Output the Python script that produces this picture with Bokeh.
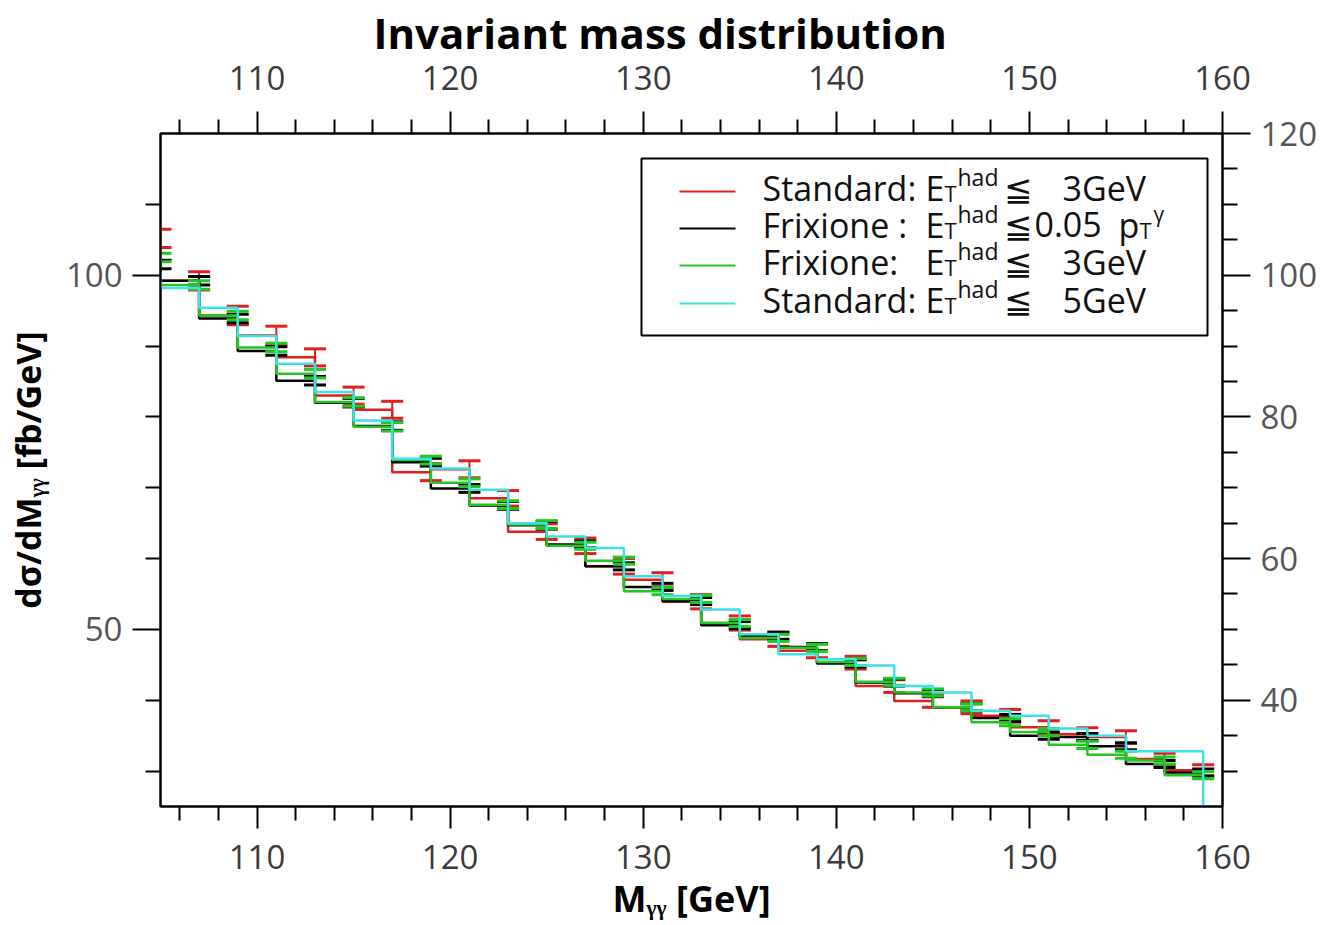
from bokeh.plotting import figure
from bokeh.models import LinearAxis, FixedTicker, Range1d, Label
from bokeh.embed import file_html
from bokeh.resources import INLINE

# ---------------- data ----------------
mass = [105, 107, 109, 111, 113, 115, 117, 119, 121, 123, 125, 127, 129, 131,
        133, 135, 137, 139, 141, 143, 145, 147, 149, 151, 153, 155, 157, 159]
mass_cyan = mass + [161]

std3 = [105.2, 99.2, 94.3, 91.5, 88.4, 83.0, 81.0, 72.2, 72.6, 68.5, 63.8, 61.8, 58.9, 57.0,
        53.9, 50.9, 48.6, 47.0, 45.3, 42.0, 39.9, 39.0, 37.8, 36.2, 35.2, 34.8, 31.7, 30.1]
std3_err = [1.3, 1.3, 1.3, 1.3, 1.2, 1.2, 1.2, 1.2, 1.2, 1.1, 1.1, 1.1, 1.1, 1.0,
            1.0, 1.0, 1.0, 1.0, 0.9, 0.9, 0.9, 0.9, 0.9, 0.9, 0.9, 0.9, 0.8, 0.8]

frix005 = [101.5, 99.2, 93.9, 89.3, 85.1, 82.0, 78.7, 73.6, 69.9, 67.5, 64.7, 62.0, 58.9, 56.0,
           54.0, 50.6, 49.1, 47.5, 45.2, 42.5, 41.0, 39.0, 37.5, 35.0, 34.8, 33.5, 31.0, 29.8]
frix005_err = [0.6, 0.6, 0.6, 0.6, 0.6, 0.6, 0.6, 0.55, 0.55, 0.55, 0.55, 0.5, 0.5, 0.5,
               0.5, 0.5, 0.5, 0.5, 0.5, 0.5, 0.5, 0.5, 0.5, 0.5, 0.5, 0.5, 0.5, 0.5]

frix3 = [102.5, 98.6, 94.3, 89.8, 86.1, 82.1, 78.6, 73.9, 70.7, 67.6, 64.8, 61.8, 59.7, 55.4,
         54.3, 50.9, 48.8, 47.4, 45.4, 42.6, 41.1, 39.0, 36.9, 35.5, 33.7, 32.3, 31.5, 29.4]
frix3_err = [0.6, 0.6, 0.6, 0.6, 0.6, 0.6, 0.6, 0.55, 0.55, 0.55, 0.55, 0.5, 0.5, 0.5,
             0.5, 0.5, 0.5, 0.5, 0.5, 0.5, 0.5, 0.5, 0.5, 0.5, 0.5, 0.5, 0.5, 0.5]

std5 = [100.5, 98.2, 95.4, 91.4, 87.5, 83.5, 79.5, 74.1, 72.7, 69.7, 65.0, 63.1, 61.5, 57.5,
        54.7, 52.8, 49.3, 46.5, 45.8, 44.9, 42.0, 41.1, 38.5, 37.8, 36.0, 35.0, 32.8, 32.8, 0.0]

x_major = [110, 120, 130, 140, 150, 160]
x_minor = [106, 108, 112, 114, 116, 118, 122, 124, 126, 128, 132, 134, 136, 138,
           142, 144, 146, 148, 152, 154, 156, 158]
yl_major = [50, 100]
yl_minor = [30, 40, 60, 70, 80, 90, 110]
yr_major = [40, 60, 80, 100, 120]
yr_minor = [30, 35, 45, 50, 55, 65, 70, 75, 85, 90, 95, 105, 110, 115]

RED, BLACK, GREEN, CYAN = "#e02020", "#000000", "#22c822", "#3fe0e6"

# ---------------- figure ----------------
W, H = 1331, 925
FL, FR, FT, FB = 160, 1222, 133, 806
XR = (105, 160)
YR = (25, 120)

p = figure(width=W, height=H, output_backend="svg", toolbar_location=None,
           x_range=Range1d(*XR), y_range=Range1d(*YR),
           x_axis_location=None, y_axis_location=None,
           min_border_left=FL, min_border_right=W - FR,
           min_border_top=FT, min_border_bottom=H - FB,
           background_fill_color="white", border_fill_color="white")
p.xgrid.visible = False
p.ygrid.visible = False
p.outline_line_color = "black"
p.outline_line_width = 2

p.title.text = "Invariant mass distribution"
p.title.text_font = "Open Sans"
p.title.text_font_style = "bold"
p.title.text_font_size = "42px"
p.title.text_color = "black"
p.title.align = "left"
p.title.offset = 213
p.title.standoff = 3


def dx(px):
    return XR[0] + (px - FL) * (XR[1] - XR[0]) / (FR - FL)


def dy(py):
    return YR[0] + (FB - py) * (YR[1] - YR[0]) / (FB - FT)


def style_axis(ax, major_out, minor_out, color, size, font="Open Sans"):
    ax.axis_line_color = "black"
    ax.axis_line_width = 2
    ax.major_tick_line_color = "black"
    ax.minor_tick_line_color = "black"
    ax.major_tick_line_width = 2
    ax.minor_tick_line_width = 2
    ax.major_tick_in = 0
    ax.minor_tick_in = 0
    ax.major_tick_out = major_out
    ax.minor_tick_out = minor_out
    ax.major_label_text_font = font
    ax.major_label_text_font_size = size
    ax.major_label_text_color = color
    ax.axis_label_text_font = "Open Sans"
    ax.axis_label_text_font_style = "bold"
    ax.axis_label_text_color = "black"


xb = LinearAxis(ticker=FixedTicker(ticks=x_major, minor_ticks=x_minor),
                axis_label="Mᵧᵧ [GeV]")
style_axis(xb, 22, 14, "#3a3a3a", "33px")
xb.major_label_standoff = 16
xb.axis_label_text_font_size = "36px"
xb.axis_label_standoff = 2
p.add_layout(xb, "below")

xt = LinearAxis(ticker=FixedTicker(ticks=x_major, minor_ticks=x_minor))
style_axis(xt, 22, 14, "#3a3a3a", "33px")
xt.major_label_standoff = 22
p.add_layout(xt, "above")

yl = LinearAxis(ticker=FixedTicker(ticks=yl_major, minor_ticks=yl_minor),
                axis_label="dσ/dMᵧᵧ [fb/GeV]")
style_axis(yl, 28, 15, "#555555", "33px")
yl.major_label_standoff = 10
yl.axis_label_text_font_size = "34px"
yl.axis_label_standoff = 12
p.add_layout(yl, "left")

yr = LinearAxis(ticker=FixedTicker(ticks=yr_major, minor_ticks=yr_minor))
style_axis(yr, 28, 15, "#555555", "33px")
yr.major_label_standoff = 10
p.add_layout(yr, "right")

# ---------------- histograms ----------------
def errbars(xs, ys, es, color):
    lo = [y - e for y, e in zip(ys, es)]
    hi = [y + e for y, e in zip(ys, es)]
    p.segment(x0=xs, y0=lo, x1=xs, y1=hi, line_color=color, line_width=2)
    p.scatter(x=xs, y=lo, marker="dash", size=22, line_color=color, line_width=3)
    p.scatter(x=xs, y=hi, marker="dash", size=22, line_color=color, line_width=3)


p.step(mass, std3, mode="before", line_color=RED, line_width=2.5)
errbars(mass, std3, std3_err, RED)
p.step(mass, frix005, mode="before", line_color=BLACK, line_width=2.5)
errbars(mass, frix005, frix005_err, BLACK)
p.step(mass, frix3, mode="before", line_color=GREEN, line_width=2.5)
errbars(mass, frix3, frix3_err, GREEN)
p.step(mass_cyan, std5, mode="before", line_color=CYAN, line_width=2.5)

# ---------------- legend (drawn by hand for sub/superscripts) ----------------
p.quad(left=[dx(641)], right=[dx(1207)], top=[dy(158)], bottom=[dy(335)],
       fill_color="white", line_color="black", line_width=2)
rows = [191, 228, 265, 303]
cols = [RED, BLACK, GREEN, CYAN]
p.segment(x0=[dx(679)] * 4, x1=[dx(735)] * 4, y0=[dy(r) for r in rows],
          y1=[dy(r) for r in rows], line_color=cols, line_width=2)

main_txt = ["Standard:", "Frixione :", "Frixione:", "Standard:"]
tail_txt = ["3GeV", "0.05", "3GeV", "5GeV"]
tail_x = [1062, 1034, 1062, 1062]


def lab(px, py, text, size):
    p.add_layout(Label(x=dx(px), y=dy(py), text=text, text_font="Open Sans",
                       text_font_size=size, text_color="#111111",
                       text_baseline="middle", text_align="left"))


for r, m, t, tx in zip(rows, main_txt, tail_txt, tail_x):
    lab(762, r - 4, m, "34px")
    lab(925, r - 4, "E", "34px")
    lab(944, r + 1, "T", "22px")
    lab(957, r - 15, "had", "23px")
    lab(1003, r - 4, "≦", "34px")
    lab(tx, r - 4, t, "34px")
lab(1118, rows[1] - 4, "p", "34px")
lab(1139, rows[1] + 1, "T", "22px")
lab(1153, rows[1] - 15, "γ", "21px")

open("out.html", "w").write(file_html(p, INLINE))
